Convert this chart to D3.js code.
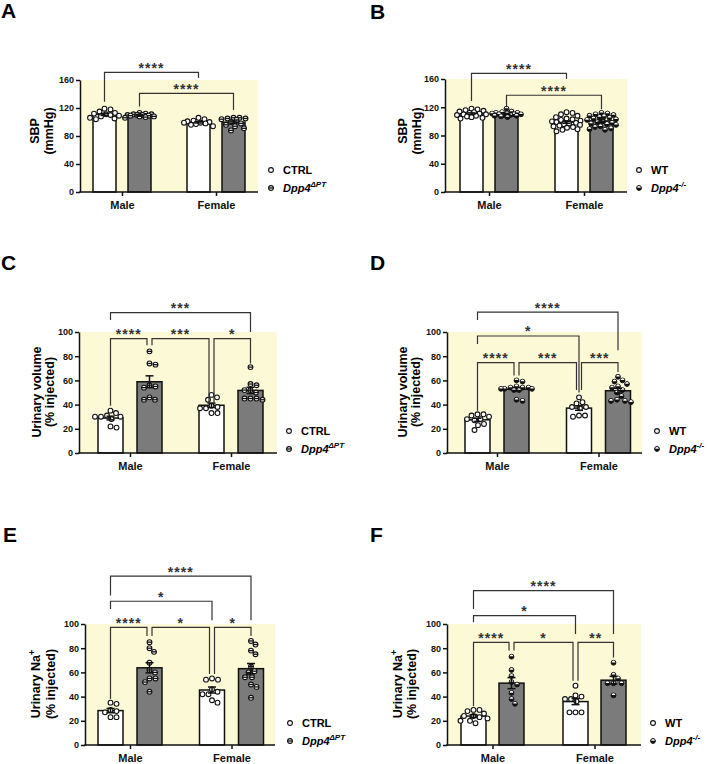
<!DOCTYPE html>
<html>
<head>
	<meta charset="utf-8">
	<title>SBP, urinary volume and Na+</title>
	<script src="https://cdnjs.cloudflare.com/ajax/libs/d3/7.8.5/d3.min.js"></script>
	<style>
		body { margin: 0; background: #fff; }
		svg text { font-family: Arial, "Liberation Sans", Helvetica, sans-serif; }
	</style>
</head>
<body>
<script>

// every panel: [male control, male Dpp4, female control, female Dpp4]
var groups = ["Male", "Female"];
var ptLegend = ["CTRL", "Dpp4", "\u0394PT"];
var koLegend = ["WT", "Dpp4", "-/-"];

var sbpPT = [
	[119, 118, 115, 113, 112, 111, 110, 109, 108, 106, 105, 104],
	[113, 112, 111, 111, 110, 110, 110, 109, 109, 108, 108, 107, 106],
	[106, 104, 102, 101, 100, 99, 99, 98, 97, 96, 94],
	[106, 106, 105, 105, 104, 103, 100, 98, 96, 94, 91, 88]
];
var sbpKO = [
	[118, 117, 116, 115, 114, 113, 112, 111, 110, 110, 109, 108, 107, 106, 105, 104],
	[118, 114, 113, 112, 112, 111, 111, 110, 110, 110, 109, 109, 108, 108, 107, 106],
	[113, 112, 110, 108, 106, 104, 103, 102, 101, 100, 99, 98, 97, 96, 95, 94, 93, 92, 91, 89, 88, 86],
	[112, 111, 110, 109, 108, 107, 106, 105, 104, 103, 102, 100, 99, 98, 97, 96, 95, 93, 92, 90, 89, 88]
];
var volPT = [
	[35, 30, 33, 30, 31, 30, 22, 21, 28],
	[84, 74, 73, 56, 54, 55, 46, 44, 44],
	[37, 44, 46, 48, 33, 38, 33, 37, 39],
	[71, 56, 57, 50, 45, 45, 45, 44, 52, 52]
];
var volKO = [
	[32, 28, 31, 32, 30, 24, 23, 19, 27, 28],
	[60, 59, 55, 54, 54, 54, 53, 53, 53, 52, 52, 44, 43],
	[46, 42, 38, 38, 41, 30, 31, 37, 31],
	[63, 60, 59, 55, 54, 52, 50, 47, 43, 43, 42, 44, 57]
];
var naPT = [
	[34, 35, 28, 27, 23, 23, 29],
	[85, 80, 77, 68, 62, 60, 55, 52, 44, 55],
	[54, 54, 55, 35, 42, 46, 42, 37, 44],
	[86, 83, 78, 75, 60, 61, 56, 56, 50, 48, 39, 65]
];
var naKO = [
	[29, 26, 28, 29, 24, 23, 20, 18, 20, 24, 22],
	[73, 62, 57, 52, 50, 43, 38, 34],
	[49, 40, 41, 38, 38, 27, 27, 27, 36],
	[68, 58, 51, 51, 55, 51, 41]
];

// comparisons: from bar, to bar, stars, bracket level, left leg end, right leg end (axis units)
var sbpPT_comps = [[0, 2, "****", 171, 129, 163], [1, 3, "****", 141, 122, 117]];
var sbpKO_comps = [[0, 2, "****", 168, 129, 160], [1, 3, "****", 137, 120, 117]];
var volPT_comps = [[0, 3, "***", 116, 110, 100], [0, 1, "****", 94.5, 39, 89],
	[1, 2, "***", 94.5, 89, 41], [2, 3, "*", 94.5, 41, 74]];
var volKO_comps = [[0, 3, "****", 116.5, 110, 85], [0, 2, "*", 96.7, 90, 50],
	[0, 1, "****", 74.7, 35, 64], [1, 2, "***", 74.7, 64, 52], [2, 3, "***", 74.7, 52, 67]];
var naPT_comps = [[0, 3, "****", 139.5, 123.5, 103], [0, 2, "*", 118.8, 112.4, 103],
	[0, 1, "****", 97.2, 38, 90], [1, 2, "*", 97.2, 90, 58.6], [2, 3, "*", 97.2, 58.6, 90]];
var naKO_comps = [[0, 3, "****", 127.6, 112.4, 91.7], [0, 2, "*", 106.9, 101.4, 91.7],
	[0, 1, "****", 84.8, 32, 78], [1, 2, "*", 84.8, 78, 53], [2, 3, "**", 84.8, 53, 72.4]];

var panels = [
	{label: "A", lx: 1, ly: 18, pts: sbpPT, comps: sbpPT_comps, legend: ptLegend, kind: 1,
		yMax: 160, step: 40, title: ["SBP", "(mmHg)"],
		left: 80, right: 258, top: 80, bottom: 192, c1: 122, c2: 216, bw: 23, sep: 17.5,
		t1: 39, t2: 52.5, tcy: 131, legX: 271},
	{label: "B", lx: 370, ly: 19, pts: sbpKO, comps: sbpKO_comps, legend: koLegend, kind: 2,
		yMax: 160, step: 40, title: ["SBP", "(mmHg)"],
		left: 445, right: 627, top: 79, bottom: 192, c1: 489, c2: 584, bw: 23, sep: 17.5,
		t1: 407, t2: 421, tcy: 131, legX: 639},
	{label: "C", lx: 1, ly: 270, pts: volPT, comps: volPT_comps, legend: ptLegend, kind: 1,
		yMax: 100, step: 20, title: ["Urinary volume", "(% injected)"],
		left: 79, right: 277, top: 332, bottom: 453, c1: 130, c2: 231, bw: 25, sep: 19.5,
		t1: 40.5, t2: 54, tcy: 392, legX: 289},
	{label: "D", lx: 370, ly: 270, pts: volKO, comps: volKO_comps, legend: koLegend, kind: 2,
		yMax: 100, step: 20, title: ["Urinary volume", "(% injected)"],
		left: 447, right: 642, top: 332, bottom: 453, c1: 497, c2: 598.5, bw: 25, sep: 19.5,
		t1: 406.5, t2: 420, tcy: 392, legX: 657},
	{label: "E", lx: 3, ly: 542, pts: naPT, comps: naPT_comps, legend: ptLegend, kind: 1,
		yMax: 100, step: 20, title: ["Urinary Na", "(% injected)"], sup: "+",
		left: 85, right: 275, top: 624, bottom: 745, c1: 130, c2: 231.5, bw: 25, sep: 19.5,
		t1: 39.5, t2: 54.5, tcy: 684, legX: 290},
	{label: "F", lx: 370, ly: 542, pts: naKO, comps: naKO_comps, legend: koLegend, kind: 2,
		yMax: 100, step: 20, title: ["Urinary Na", "(% injected)"], sup: "+",
		left: 447, right: 641, top: 624, bottom: 745, c1: 492.5, c2: 594.5, bw: 25, sep: 19,
		t1: 401.5, t2: 416, tcy: 684, legX: 653}
];

var R = 2.4;
var svg = d3.select("body").append("svg")
	.attr("width", 709)
	.attr("height", 764);

// 0 open circle, 1 circle with bar (deltaPT), 2 lower-half filled (knockout)
function dot(sel, kind) {
	if (kind == 2) {
		sel.append("circle").attr("r", R).attr("fill", "#111").attr("stroke", "#111").attr("stroke-width", 1);
		sel.append("path")
			.attr("d", "M" + (-R + 0.6) + ",-0.3A" + (R - 0.6) + "," + (R - 0.6) + " 0 0 1 " + (R - 0.6) + ",-0.3Z")
			.attr("fill", "#fff");
	} else {
		sel.append("circle").attr("r", R).attr("fill", "#fff").attr("stroke", "#111").attr("stroke-width", 1.1);
		if (kind == 1) {
			sel.append("line").attr("x1", -R).attr("x2", R)
				.attr("stroke", "#111").attr("stroke-width", 1.3);
		}
	}
}

// simple beeswarm, offsets from the bar centre
function swarm(vals, y, maxOff) {
	var pts = vals.map(function(v) { return {v: v, y: y(v), dx: 0}; });
	var order = pts.slice().sort(function(a, b) { return a.y - b.y; });
	var placed = [];
	var D = 2 * R + 0.9;
	order.forEach(function(p) {
		var best = 0, bestScore = -1;
		for (var k = 0; k <= maxOff * 4; k++) {
			var off = (k % 2 ? 1 : -1) * Math.ceil(k / 2) * 0.5;
			var md = Infinity;
			placed.forEach(function(q) {
				var d = Math.hypot(q.dx - off, q.y - p.y);
				if (d < md) md = d;
			});
			if (md >= D) { best = off; bestScore = Infinity; break; }
			if (md > bestScore) { bestScore = md; best = off; }
		}
		p.dx = best;
		placed.push(p);
	});
	return pts;
}

function drawPanel(p) {
	var g = svg.append("g");
	var y = d3.scaleLinear().domain([0, p.yMax]).range([p.bottom, p.top]);
	var xg = d3.scalePoint().domain(groups).range([p.c1, p.c2]);
	var xs = d3.scaleBand().domain([0, 1])
		.range([-p.sep - p.bw / 2, p.sep + p.bw / 2])
		.paddingInner(1 - p.bw / (2 * p.sep));

	var bars = p.pts.map(function(vals, i) {
		var m = d3.mean(vals);
		var sem = d3.deviation(vals) / Math.sqrt(vals.length);
		var x = xg(groups[i >> 1]) + xs(i % 2);
		return {i: i, vals: vals, mean: m, sem: sem, x: x, cx: x + xs.bandwidth() / 2};
	});

	g.append("rect")
		.attr("x", p.left).attr("y", p.top)
		.attr("width", p.right - p.left).attr("height", p.bottom - p.top)
		.attr("fill", "#fcf9d7");

	g.append("text")
		.attr("x", p.lx).attr("y", p.ly)
		.attr("font-size", 21).attr("font-weight", "bold")
		.text(p.label);

	// bars
	g.selectAll("rect.bar")
		.data(bars)
		.enter()
		.append("rect")
		.attr("class", "bar")
		.attr("x", function(d) { return d.x; })
		.attr("y", function(d) { return y(d.mean); })
		.attr("width", xs.bandwidth())
		.attr("height", function(d) { return p.bottom - y(d.mean); })
		.attr("fill", function(d) { return d.i % 2 ? "#7b7b7b" : "#fff"; })
		.attr("stroke", "#111")
		.attr("stroke-width", 1.5);

	// points
	bars.forEach(function(b) {
		var pts = swarm(b.vals, y, xs.bandwidth() / 2 + 3);
		pts.forEach(function(q) {
			var s = g.append("g").attr("transform", "translate(" + (b.cx + q.dx) + "," + q.y + ")");
			dot(s, b.i % 2 ? p.kind : 0);
		});
	});

	// error bars (SEM)
	var eb = g.selectAll("g.err").data(bars).enter().append("g")
		.attr("stroke", "#111").attr("stroke-width", 1.5);
	eb.append("line")
		.attr("x1", function(d) { return d.cx; }).attr("x2", function(d) { return d.cx; })
		.attr("y1", function(d) { return y(d.mean - d.sem); })
		.attr("y2", function(d) { return y(d.mean + d.sem); });
	[-1, 1].forEach(function(sgn) {
		eb.append("line")
			.attr("x1", function(d) { return d.cx - 4; }).attr("x2", function(d) { return d.cx + 4; })
			.attr("y1", function(d) { return y(d.mean + sgn * d.sem); })
			.attr("y2", function(d) { return y(d.mean + sgn * d.sem); });
	});

	// axes
	var yAxis = g.append("g")
		.attr("transform", "translate(" + p.left + ",0)")
		.call(d3.axisLeft(y).tickValues(d3.range(0, p.yMax + 1, p.step)).tickSize(4).tickSizeOuter(0).tickPadding(2));
	yAxis.select(".domain").attr("stroke", "#111").attr("stroke-width", 1.5);
	yAxis.selectAll(".tick line").attr("stroke", "#111").attr("stroke-width", 1.5);
	yAxis.selectAll("text")
		.attr("font-size", 9).attr("font-weight", "bold").attr("fill", "#111")
		.style("font-family", "Arial, 'Liberation Sans', sans-serif");

	g.append("line")
		.attr("x1", p.left - 0.75).attr("x2", p.right)
		.attr("y1", p.bottom).attr("y2", p.bottom)
		.attr("stroke", "#111").attr("stroke-width", 1.5);
	var xAxis = g.append("g")
		.attr("transform", "translate(0," + p.bottom + ")")
		.call(d3.axisBottom(xg).tickSize(4).tickSizeOuter(0).tickPadding(5));
	xAxis.select(".domain").remove();
	xAxis.selectAll(".tick line").attr("stroke", "#111").attr("stroke-width", 1.5);
	xAxis.selectAll("text")
		.attr("font-size", 11).attr("font-weight", "bold").attr("fill", "#111")
		.style("font-family", "Arial, 'Liberation Sans', sans-serif");

	// y title, two lines
	var t1 = g.append("text")
		.attr("transform", "translate(" + p.t1 + "," + p.tcy + ") rotate(-90)")
		.attr("text-anchor", "middle")
		.attr("font-size", 12.5).attr("font-weight", "bold")
		.text(p.title[0]);
	if (p.sup) {
		t1.append("tspan").attr("dy", -5).attr("font-size", 9).text(p.sup);
	}
	g.append("text")
		.attr("transform", "translate(" + p.t2 + "," + p.tcy + ") rotate(-90)")
		.attr("text-anchor", "middle")
		.attr("font-size", 12.5).attr("font-weight", "bold")
		.text(p.title[1]);

	// legend
	var l1 = g.append("g").attr("transform", "translate(" + p.legX + "," + (p.bottom - 22) + ")");
	dot(l1, 0);
	l1.append("text").attr("x", 12).attr("y", 4)
		.attr("font-size", 11).attr("font-weight", "bold")
		.text(p.legend[0]);
	var l2 = g.append("g").attr("transform", "translate(" + p.legX + "," + (p.bottom - 4) + ")");
	dot(l2, p.kind);
	var lt = l2.append("text").attr("x", 12).attr("y", 4)
		.attr("font-size", 11).attr("font-weight", "bold").attr("font-style", "italic")
		.text(p.legend[1]);
	lt.append("tspan").attr("dy", -5).attr("font-size", 8).text(p.legend[2]);

	// significance brackets
	p.comps.forEach(function(c) {
		var sameLevel = p.comps.filter(function(o) { return o !== c && Math.abs(o[3] - c[3]) < 0.01; });
		var shareLeft = sameLevel.some(function(o) { return o[0] == c[0] || o[1] == c[0]; });
		var shareRight = sameLevel.some(function(o) { return o[0] == c[1] || o[1] == c[1]; });
		var xa = bars[c[0]].cx + (shareLeft ? 2.5 : 0);
		var xb = bars[c[1]].cx - (shareRight ? 2.5 : 0);
		g.append("path")
			.attr("d", "M" + xa + "," + y(c[4]) + "V" + y(c[3]) + "H" + xb + "V" + y(c[5]))
			.attr("fill", "none")
			.attr("stroke", "#333")
			.attr("stroke-width", 1.2);
		g.append("text")
			.attr("x", (xa + xb) / 2).attr("y", y(c[3]) + 0.5)
			.attr("text-anchor", "middle")
			.attr("font-size", 14).attr("font-weight", "bold")
			.attr("letter-spacing", 1)
			.attr("fill", "#333")
			.text(c[2]);
	});
}

panels.forEach(drawPanel);

</script>
</body>
</html>
